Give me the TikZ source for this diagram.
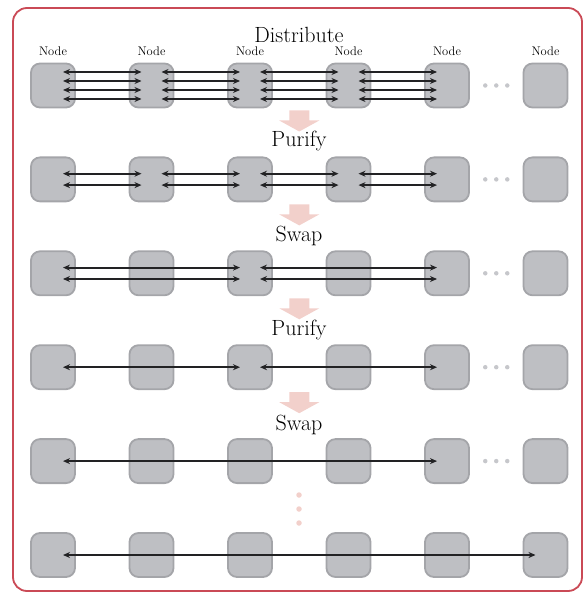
\documentclass[tikz,border=0pt]{standalone}
\usetikzlibrary{arrows.meta,calc}
\definecolor{nodefill}{RGB}{190,191,195}
\definecolor{nodeedge}{RGB}{164,165,169}
\definecolor{frame}{RGB}{202,74,86}
\definecolor{pinkarrow}{RGB}{242,208,203}
\definecolor{dotgray}{RGB}{198,199,203}
\definecolor{linkcol}{RGB}{34,34,36}
\tikzset{
  qnode/.style={rounded corners=9pt, fill=nodefill, draw=nodeedge, line width=1.8pt, minimum width=44pt, minimum height=44pt, inner sep=0pt},
  link/.style={draw=linkcol, line width=1.9pt, {Stealth[length=7pt,width=6pt]}-{Stealth[length=7pt,width=6pt]}},
  steplabel/.style={font=\fontsize{22}{26}\selectfont, anchor=base, inner sep=0pt},
  nodelabel/.style={font=\fontsize{12.5}{14}\selectfont, inner sep=0pt},
  hdot/.style={circle, fill=dotgray, inner sep=0pt, minimum size=4.5pt},
  vdot/.style={circle, fill=pinkarrow, inner sep=0pt, minimum size=5.5pt},
}
\begin{document}
\begin{tikzpicture}[x=1pt,y=-1pt]
\useasboundingbox (0,0) rectangle (584,593);
\draw[frame, line width=1.8pt, rounded corners=14pt] (13,8) rectangle (582,591);

% nodes
\foreach \r/\yy in {1/85.5,2/179.4,3/273.3,4/367.2,5/461.1,6/555}{
  \foreach \c/\xx in {1/53,2/151.5,3/250,4/348.5,5/447,6/545.5}{
    \node[qnode] (n\r\c) at (\xx,\yy) {};
  }
}
% node labels
\foreach \c in {1,...,6}{
  \node[nodelabel, anchor=base] (lab\c) at ([yshift=7pt]n1\c.north) {Node};
}
% horizontal dots
\foreach \r in {1,...,5}{
  \coordinate (m\r) at ($(n\r5.center)!0.5!(n\r6.center)$);
  \node[hdot] (d\r a) at ([xshift=-11pt]m\r) {};
  \node[hdot] (d\r b) at (m\r) {};
  \node[hdot] (d\r c) at ([xshift=11pt]m\r) {};
}
% vertical dots
\node[vdot] (v1) at (299,495) {};
\node[vdot] (v2) at (299,509) {};
\node[vdot] (v3) at (299,523) {};

% step labels
\node[steplabel] (t0) at (299,43) {Distribute};
\node[steplabel] (t1) at (299,147) {Purify};
\node[steplabel] (t2) at (299,241) {Swap};
\node[steplabel] (t3) at (299,335) {Purify};
\node[steplabel] (t4) at (299,430) {Swap};

% pink process arrows
\foreach \r in {1,...,4}{
  \coordinate (pa\r) at ([yshift=-25pt]$(n\r3.center)!0.5!(n\r4.center)$);
  \fill[pinkarrow] ([xshift=-10pt]pa\r) -- ([xshift=10pt]pa\r) -- ([xshift=10pt,yshift=-10pt]pa\r)
    -- ([xshift=20pt,yshift=-10pt]pa\r) -- ([yshift=-21pt]pa\r) -- ([xshift=-20pt,yshift=-10pt]pa\r)
    -- ([xshift=-10pt,yshift=-10pt]pa\r) -- cycle;
}

% row 1: four links between neighbours
\foreach \a/\b in {1/2,2/3,3/4,4/5}{
  \foreach \o in {-13.5,-4.5,4.5,13.5}{
    \draw[link] ([xshift=10pt,yshift=\o pt]n1\a.center) -- ([xshift=-10pt,yshift=\o pt]n1\b.center);
  }
}
% row 2: two links between neighbours
\foreach \a/\b in {1/2,2/3,3/4,4/5}{
  \foreach \o in {-5.7,5.7}{
    \draw[link] ([xshift=10pt,yshift=\o pt]n2\a.center) -- ([xshift=-10pt,yshift=\o pt]n2\b.center);
  }
}
% row 3: two links, 1-3 and 3-5
\foreach \a/\b in {1/3,3/5}{
  \foreach \o in {-5.7,5.7}{
    \draw[link] ([xshift=10pt,yshift=\o pt]n3\a.center) -- ([xshift=-10pt,yshift=\o pt]n3\b.center);
  }
}
% row 4: one link, 1-3 and 3-5
\foreach \a/\b in {1/3,3/5}{
  \draw[link] ([xshift=10pt]n4\a.center) -- ([xshift=-10pt]n4\b.center);
}
% row 5
\draw[link] ([xshift=10pt]n51.center) -- ([xshift=-10pt]n55.center);
% row 6
\draw[link] ([xshift=10pt]n61.center) -- ([xshift=-10pt]n66.center);
\end{tikzpicture}
\end{document}
